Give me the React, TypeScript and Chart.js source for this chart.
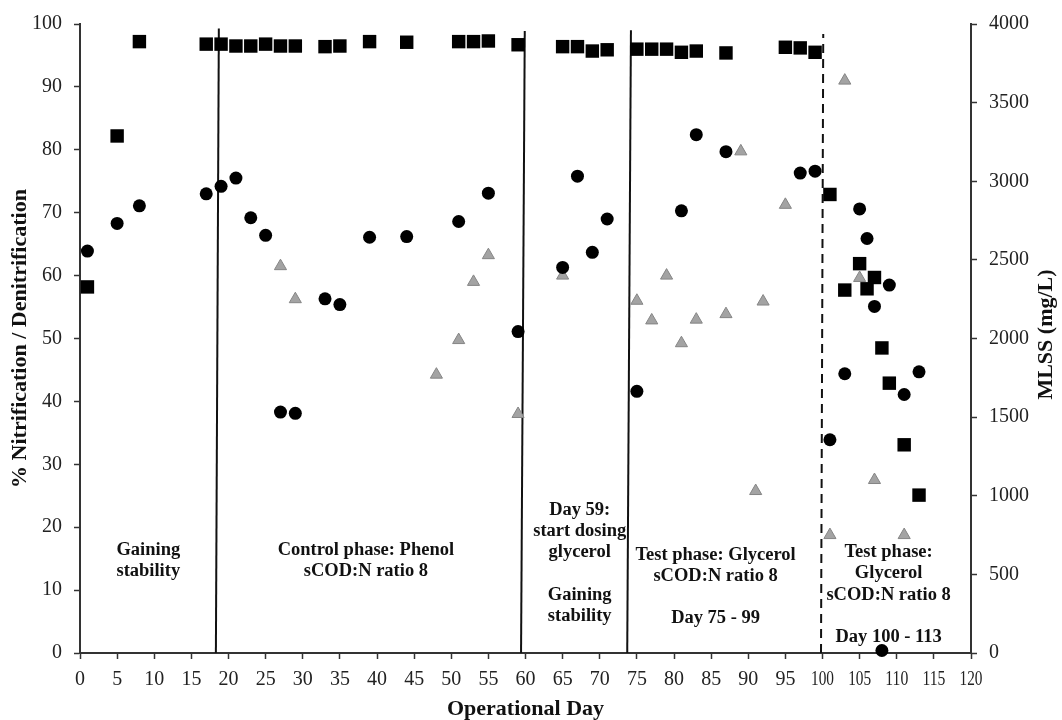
import React, { useEffect, useRef } from "react";
import { Chart, registerables } from "chart.js";

Chart.register(...registerables);

// % Nitrification (squares)
const nitrificationDays = [1, 5, 8, 17, 19, 21, 23, 25, 27, 29, 33, 35, 39, 44, 51, 53, 55, 59, 65, 67, 69, 71, 75, 77, 79, 81, 83, 87, 95, 97, 99, 101, 103, 105, 106, 107, 108, 109, 111, 113];
const nitrificationPct = [58.2, 82.2, 97.2, 96.8, 96.8, 96.5, 96.5, 96.8, 96.5, 96.5, 96.4, 96.5, 97.2, 97.1, 97.2, 97.2, 97.3, 96.7, 96.4, 96.4, 95.7, 95.9, 96.0, 96.0, 96.0, 95.5, 95.7, 95.4, 96.3, 96.2, 95.5, 72.9, 57.7, 61.9, 57.9, 59.7, 48.5, 42.9, 33.1, 25.1];

// % Denitrification (circles)
const denitrificationDays = [1, 5, 8, 17, 19, 21, 23, 25, 27, 29, 33, 35, 39, 44, 51, 55, 59, 65, 67, 69, 71, 75, 81, 83, 87, 97, 99, 101, 103, 105, 106, 107, 108, 109, 111, 113];
const denitrificationPct = [63.9, 68.3, 71.1, 73.0, 74.2, 75.5, 69.2, 66.4, 38.3, 38.1, 56.3, 55.4, 66.1, 66.2, 68.6, 73.1, 51.1, 61.3, 75.8, 63.7, 69.0, 41.6, 70.3, 82.4, 79.7, 76.3, 76.6, 33.9, 44.4, 70.6, 65.9, 55.1, 0.4, 58.5, 41.1, 44.7];

// MLSS mg/L (triangles, right axis)
const mlssDays = [27, 29, 48, 51, 53, 55, 59, 65, 75, 77, 79, 81, 83, 87, 89, 91, 92, 95, 101, 103, 105, 107, 111];
const mlssValues = [2460, 2250, 1770, 1990, 2360, 2530, 1520, 2400, 2240, 2115, 2400, 1970, 2120, 2155, 3190, 1030, 2235, 2850, 750, 3640, 2385, 1100, 750];

// Phase separator lines (day at bottom, day at top, top value in %)
const phaseLineBottomDay = [18.3, 59.4, 73.7];
const phaseLineTopDay = [18.7, 59.9, 74.2];
const phaseLineTop = [99.3, 98.9, 99.0];
const dashedLineBottomDay = 99.8;
const dashedLineTopDay = 100.1;
const dashedLineTop = 98.4;

// Phase annotations: centre day, % value of first line, lines
const annotationDays = [9.2, 38.5, 67.3, 85.6, 108.9];
const annotationTopValues = [16.4, 16.4, 22.7, 15.6, 16.0];
const annotationLines = [
  ["Gaining", "stability"],
  ["Control phase: Phenol", "sCOD:N ratio 8"],
  ["Day 59:", "start dosing", "glycerol", "", "Gaining", "stability"],
  ["Test phase: Glycerol", "sCOD:N ratio 8", "", "Day 75 - 99"],
  ["Test phase:", "Glycerol", "sCOD:N ratio 8", "", "Day 100 - 113"],
];

const xTitle = "Operational Day";
const yTitle = "% Nitrification / Denitrification";
const y1Title = "MLSS (mg/L)";

const SERIF = '"Liberation Serif", "Times New Roman", serif';

const overlayPlugin = {
  id: "overlay",
  afterDraw(chart: any) {
    const { ctx, scales, chartArea } = chart;
    const x = scales.x;
    const y = scales.y;
    ctx.save();
    // x tick labels (compressed when wide)
    ctx.font = `20px ${SERIF}`;
    ctx.fillStyle = "#222";
    ctx.textAlign = "center";
    ctx.textBaseline = "middle";
    x.ticks.forEach((t: any) => {
      const px = x.getPixelForValue(t.value);
      ctx.fillText(String(t.value), px, chartArea.bottom + 27, 23);
    });
    // annotations
    ctx.font = `bold 18.5px ${SERIF}`;
    ctx.fillStyle = "#111";
    annotationLines.forEach((lines, i) => {
      const cx = x.getPixelForValue(annotationDays[i]);
      const top = y.getPixelForValue(annotationTopValues[i]);
      lines.forEach((l, j) => {
        if (l) ctx.fillText(l, cx, top + j * 21.2);
      });
    });
    // titles
    ctx.font = `bold 22px ${SERIF}`;
    ctx.fillStyle = "#111";
    ctx.fillText(xTitle, (chartArea.left + chartArea.right) / 2, chartArea.bottom + 56);
    const midY = (chartArea.top + chartArea.bottom) / 2;
    ctx.save();
    ctx.translate(20, midY);
    ctx.rotate(-Math.PI / 2);
    ctx.fillText(yTitle, 0, 0);
    ctx.restore();
    ctx.save();
    ctx.translate(chart.width - 16, midY - 4);
    ctx.rotate(-Math.PI / 2);
    ctx.fillText(y1Title, 0, 0);
    ctx.restore();
    ctx.restore();
  },
};

const toPoints = (xs: number[], ys: number[]) => xs.map((d, i) => ({ x: d, y: ys[i] }));

export default function App() {
  const ref = useRef<HTMLCanvasElement>(null);
  useEffect(() => {
    if (!ref.current) return;
    const lineDatasets: any[] = phaseLineBottomDay.map((d, i) => ({
      type: "line",
      data: [
        { x: d, y: 0 },
        { x: phaseLineTopDay[i], y: phaseLineTop[i] },
      ],
      borderColor: "#111",
      borderWidth: 2,
      pointRadius: 0,
      showLine: true,
      yAxisID: "y",
      order: 5,
    }));
    lineDatasets.push({
      type: "line",
      data: [
        { x: dashedLineBottomDay, y: 0 },
        { x: dashedLineTopDay, y: dashedLineTop },
      ],
      borderColor: "#111",
      borderWidth: 2,
      borderDash: [9, 6],
      pointRadius: 0,
      showLine: true,
      yAxisID: "y",
      order: 5,
    });
    const chart = new Chart(ref.current, {
      type: "scatter",
      data: {
        datasets: [
          ...lineDatasets,
          {
            label: "MLSS",
            data: toPoints(mlssDays, mlssValues),
            yAxisID: "y1",
            pointStyle: "triangle",
            pointRadius: 7,
            backgroundColor: "#a3a3a3",
            borderColor: "#858585",
            borderWidth: 1,
            clip: false,
            order: 3,
          },
          {
            label: "% Denitrification",
            data: toPoints(denitrificationDays, denitrificationPct),
            yAxisID: "y",
            pointStyle: "circle",
            pointRadius: 6.5,
            backgroundColor: "#000",
            borderColor: "#000",
            borderWidth: 0,
            clip: false,
            order: 2,
          },
          {
            label: "% Nitrification",
            data: toPoints(nitrificationDays, nitrificationPct),
            yAxisID: "y",
            pointStyle: "rect",
            pointRadius: 9.5,
            backgroundColor: "#000",
            borderColor: "#000",
            borderWidth: 0,
            clip: false,
            order: 1,
          },
        ],
      },
      options: {
        animation: false,
        responsive: false,
        maintainAspectRatio: false,
        layout: { padding: { top: 21, left: 0, right: 0, bottom: 0 } },
        plugins: { legend: { display: false }, tooltip: { enabled: false } },
        scales: {
          x: {
            type: "linear",
            min: 0,
            max: 120,
            ticks: { display: false, stepSize: 5, autoSkip: false },
            grid: { drawOnChartArea: false, drawTicks: true, tickLength: 6, tickColor: "#333", tickWidth: 1.5 },
            border: { display: true, color: "#333", width: 2 },
            afterFit: (s: any) => {
              s.height = 67;
            },
          },
          y: {
            type: "linear",
            position: "left",
            min: 0,
            max: 100,
            ticks: { stepSize: 10, padding: 12, color: "#222", font: { family: SERIF, size: 20 } },
            grid: { drawOnChartArea: false, drawTicks: true, tickLength: 6, tickColor: "#333", tickWidth: 1.5 },
            border: { display: true, color: "#333", width: 2 },
            afterFit: (s: any) => {
              s.width = 80;
            },
          },
          y1: {
            type: "linear",
            position: "right",
            min: 0,
            max: 4000,
            ticks: {
              stepSize: 500,
              padding: 12,
              color: "#222",
              font: { family: SERIF, size: 20 },
              callback: (v: any) => String(v),
            },
            grid: { drawOnChartArea: false, drawTicks: true, tickLength: 6, tickColor: "#333", tickWidth: 1.5 },
            border: { display: true, color: "#333", width: 2 },
            afterFit: (s: any) => {
              s.width = 91;
            },
          },
        },
      },
      plugins: [overlayPlugin],
    } as any);
    return () => chart.destroy();
  }, []);
  return (
    <div style={{ position: "fixed", left: 0, top: 0, width: 1062, height: 720 }}>
      <canvas ref={ref} width={1062} height={720} style={{ display: "block", width: 1062, height: 720 }} />
    </div>
  );
}
